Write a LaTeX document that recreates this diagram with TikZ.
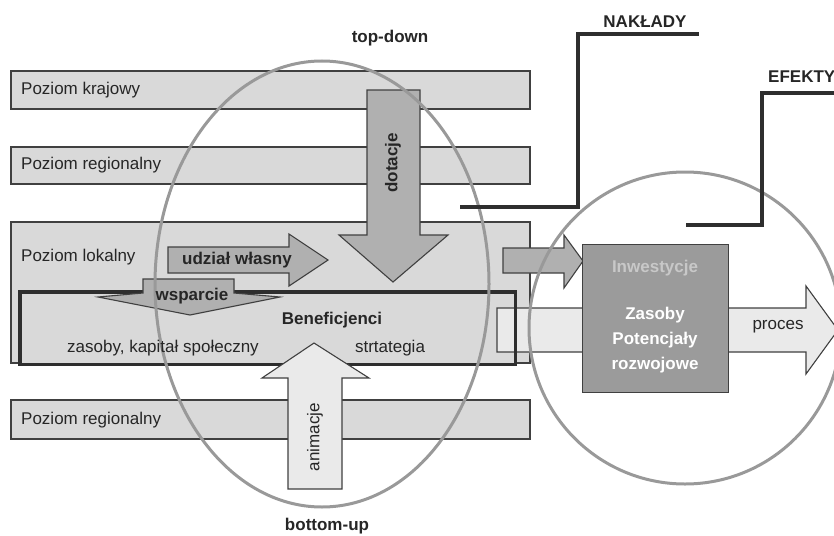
\documentclass[tikz,border=0pt]{standalone}
\usepackage{fontspec}
\setmainfont{Liberation Sans}
\definecolor{barfill}{HTML}{D9D9D9}
\definecolor{barline}{HTML}{404040}
\definecolor{arrfill}{HTML}{B0B0B0}
\definecolor{lightfill}{HTML}{EAEAEA}
\definecolor{boxfill}{HTML}{9B9B9B}
\definecolor{ringcol}{HTML}{999999}
\definecolor{txt}{HTML}{262626}
\definecolor{darkline}{HTML}{2E2E2E}
\definecolor{invtxt}{HTML}{C8C8C8}
\begin{document}
\begin{tikzpicture}[x=1pt,y=-1pt,
  font=\fontsize{17}{20}\selectfont, text=txt,
  bar/.style={draw=barline, fill=barfill, line width=1.2pt, minimum width=519pt, anchor=north west, inner sep=0pt, outer sep=0pt},
  lbl/.style={anchor=west, inner sep=0pt},
  bold/.style={font=\fontsize{17}{20}\selectfont\bfseries},
  arr/.style={draw=barline, line width=1.1pt, fill=arrfill, line join=miter},
  ring/.style={draw=ringcol, line width=3pt},
  conn/.style={draw=darkline, line width=3.5pt}]
\useasboundingbox (0,0) rectangle (834,535);
\clip (0,0) rectangle (834,535);

% level bars
\node[bar, minimum height=38pt] (kraj) at (11,71) {};
\node[bar, minimum height=37pt] (reg) at (11,147) {};
\node[bar, minimum height=141pt] (lok) at (11,222) {};
\node[bar, minimum height=39pt] (reg2) at (11,400) {};

% beneficjenci fill
\node[fill=barfill, minimum width=495pt, minimum height=72pt, anchor=north west, inner sep=0pt] (ben) at (20,292) {};

% process arrow
\draw[arr, fill=lightfill] (497,308) -- (806,308) -- (806,286) -- (838,330) -- (806,374) -- (806,352) -- (497,352) -- cycle;

% beneficjenci border
\draw[darkline, line width=3.5pt] (ben.north west) rectangle (ben.south east);

% arrows
\draw[arr] (168,247) -- (289,247) -- (289,234) -- (328,260) -- (289,286) -- (289,273) -- (168,273) -- cycle;
\draw[arr] (367,90) -- (420,90) -- (420,235) -- (448,235) -- (393,282) -- (339,235) -- (367,235) -- cycle;
\draw[arr] (143,279) -- (234,279) -- (234,293) -- (280,297) -- (190,315) -- (98,297) -- (143,293) -- cycle;
\draw[arr, fill=lightfill] (288,489) -- (342,489) -- (342,378) -- (369,378) -- (314,343) -- (262,378) -- (288,378) -- cycle;
\draw[arr] (503,248) -- (564,248) -- (564,235) -- (583,261) -- (564,288) -- (564,273) -- (503,273) -- cycle;

% investment box
\node[draw=barline, fill=boxfill, line width=1.2pt, minimum width=146pt, minimum height=148pt, anchor=north west, inner sep=0pt] (inv) at (582,244) {};

% rings
\draw[ring] (322,284) ellipse [x radius=167, y radius=223];
\draw[ring] (685,328) circle [radius=156];

% connectors
\coordinate (n0) at (460,207);
\coordinate (n1) at (699,34);
\draw[conn] (n0) -- ++(118,0) |- (n1);
\coordinate (e0) at (686,225);
\coordinate (e1) at (840,93);
\draw[conn] (e0) -- ++(76,0) |- (e1);

% labels
\node[bold] (td) at (390,38) {top-down};
\node[bold] (bu) at (327,526) {bottom-up};
\node[bold] (nak) at (645,22) {NAKŁADY};
\node[bold, anchor=west, inner sep=0pt] (efe) at (768,77) {EFEKTY};

\node[lbl] (t1) at (21,90) {Poziom krajowy};
\node[lbl] (t2) at (21,165) {Poziom regionalny};
\node[lbl] (t3) at (21,257) {Poziom lokalny};
\node[lbl] (t4) at (21,420) {Poziom regionalny};

\node[bold, rotate=90] (dot) at (393,163) {dotacje};
\node[rotate=90] (ani) at (315,437) {animacje};
\node[bold] (udz) at (237,260) {udział własny};
\node[bold] (wsp) at (192,296) {wsparcie};
\node[bold] (bnf) at (332,320) {Beneficjenci};
\node (zas) at (163,348) {zasoby, kapitał społeczny};
\node (str) at (390,348) {strtategia};
\node[bold, text=invtxt] (inw) at (655,268) {Inwestycje};
\node[bold, text=white, align=center, font=\fontsize{17}{25}\selectfont\bfseries] (zp) at (655,340) {Zasoby\\Potencjały\\rozwojowe};
\node (pro) at (778,327) {proces};
\end{tikzpicture}
\end{document}
